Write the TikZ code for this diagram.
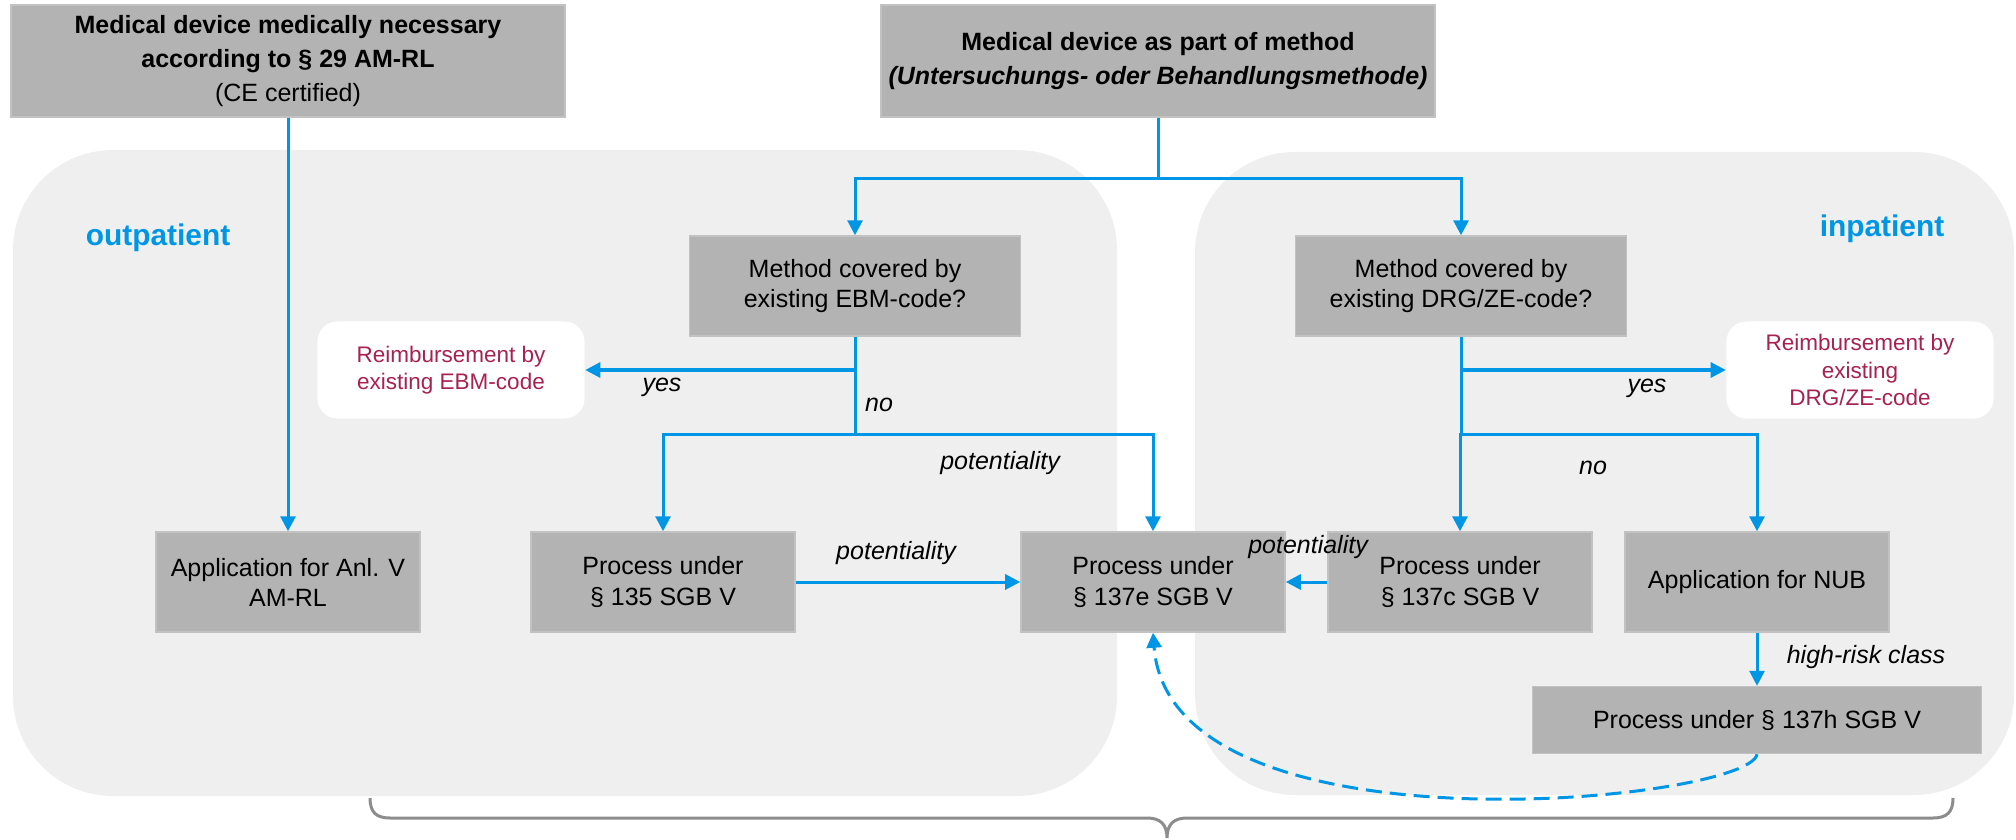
\documentclass[tikz,border=0pt]{standalone}
\usepackage{fontspec}
\setmainfont{Liberation Sans}
\usepackage{tikz}
\usetikzlibrary{arrows.meta,positioning}

\definecolor{boxgray}{HTML}{B3B3B3}
\definecolor{boxedge}{HTML}{C2C2C2}
\definecolor{areabg}{HTML}{EFEFEF}
\definecolor{flowblue}{HTML}{0096E6}
\definecolor{reimbred}{HTML}{A8224F}
\definecolor{bracegray}{HTML}{8C8C8C}

\begin{document}
\begin{tikzpicture}[
  x=0.01cm, y=-0.01cm,
  every node/.style={align=center, inner sep=0pt},
  box/.style={
    fill=boxgray, draw=boxedge, line width=0.4pt,
    minimum width=2.64cm, minimum height=1cm,
    font=\fontsize{7.11}{8.54}\selectfont
  },
  topbox/.style={box, minimum width=5.54cm, minimum height=1.12cm,
    font=\fontsize{7.11}{9.6}\selectfont},
  qbox/.style={box, minimum width=3.31cm},
  reimb/.style={
    fill=white, rounded corners=0.2cm, text=reimbred,
    minimum width=2.67cm, minimum height=0.97cm,
    font=\fontsize{6.4}{7.7}\selectfont
  },
  area/.style={fill=areabg, rounded corners=1cm},
  arealabel/.style={text=flowblue, font=\fontsize{8.5}{10}\selectfont\bfseries},
  lbl/.style={font=\fontsize{7.11}{8.5}\selectfont\itshape},
  line/.style={draw=flowblue, line width=0.03cm},
  arr/.style={line, -{Triangle[length=0.15cm, width=0.15cm]}},
  brace/.style={draw=bracegray, line width=0.03cm}
]
\useasboundingbox (0,0) rectangle (2016,840);

% le due aree di sfondo
\fill[area] (13,150) rectangle (1117,796);
\fill[area] (1195,152) rectangle (2014,795);
\node[arealabel] (outL) at (158,238) {outpatient};
\node[arealabel] (inL) at (1882,229) {inpatient};

\node[topbox] (necessary) at (288,61) {\textbf{Medical device medically necessary}\\\textbf{according to § 29 AM-RL}\\(CE certified)};
\node[topbox] (method) at (1158,61) {\textbf{Medical device as part of method}\\\textbf{\textit{(Untersuchungs- oder Behandlungsmethode)}}};

\node[qbox] (ebm) at (855,286) {Method covered by\\existing EBM-code?};
\node[qbox] (drg) at (1461,286) {Method covered by\\existing DRG/ZE-code?};

\node[reimb] (reimbL) at (451,370) {Reimbursement by\\existing EBM-code};
\node[reimb] (reimbR) at (1860,370) {Reimbursement by\\existing\\DRG/ZE-code};

\node[box] (anl) at (288,582) {Application for Anl. V\\AM-RL};
\node[box] (p135) at (663,582) {Process under\\§ 135 SGB V};
\node[box] (p137e) at (1153,582) {Process under\\§ 137e SGB V};
\node[box] (p137c) at (1460,582) {Process under\\§ 137c SGB V};
\node[box] (nub) at (1757,582) {Application for NUB};
\node[box, minimum width=4.49cm, minimum height=0.67cm] (p137h) at (1757,720) {Process under § 137h SGB V};

% collegamenti
\draw[arr] (necessary.south) -- (anl.north);
\draw[line] (method.south) -- ++(0,61) coordinate (jM);
\draw[arr] (jM) -| (ebm.north);
\draw[arr] (jM) -| (drg.north);

\draw[line] (ebm.south) -- ++(0,98) coordinate (jE);
\draw[arr] (ebm.south |- reimbL.east) -- (reimbL.east);
\draw[arr] (jE) -| (p135.north);
\draw[arr] (jE) -| (p137e.north);

\draw[line] (drg.south) -- ++(0,98) coordinate (jD);
\draw[arr] (drg.south |- reimbR.west) -- (reimbR.west);
\draw[arr] (jD) -| (p137c.north);
\draw[arr] (jD) -| (nub.north);

\draw[arr] (p135.east) -- (p137e.west);
\draw[arr] (p137c.west) -- (p137e.east);
\draw[arr] (nub.south) -- (p137h.north);
\draw[arr, dash pattern=on 0.16cm off 0.08cm] (p137h.south) .. controls +(-7,47) and +(17,228) .. (p137e.south);

\node[lbl] (yesL) at (662,387) {yes};
\node[lbl] (noL) at (879,405) {no};
\node[lbl] (potA) at (1000,463) {potentiality};
\node[lbl] (potB) at (896,553) {potentiality};
\node[lbl] (potC) at (1308,547) {potentiality};
\node[lbl] (yesR) at (1647,388) {yes};
\node[lbl] (noR) at (1593,468) {no};
\node[lbl] (risk) at (1866,657) {high-risk class};

% graffa in basso
\draw[brace] (370,798) .. controls (370,812) and (376,818) .. (390,818) -- (1147,818)
  .. controls (1160,818) and (1167,824) .. (1167,838)
  .. controls (1167,824) and (1174,818) .. (1187,818) -- (1933,818)
  .. controls (1947,818) and (1953,812) .. (1953,798);
\end{tikzpicture}
\end{document}
